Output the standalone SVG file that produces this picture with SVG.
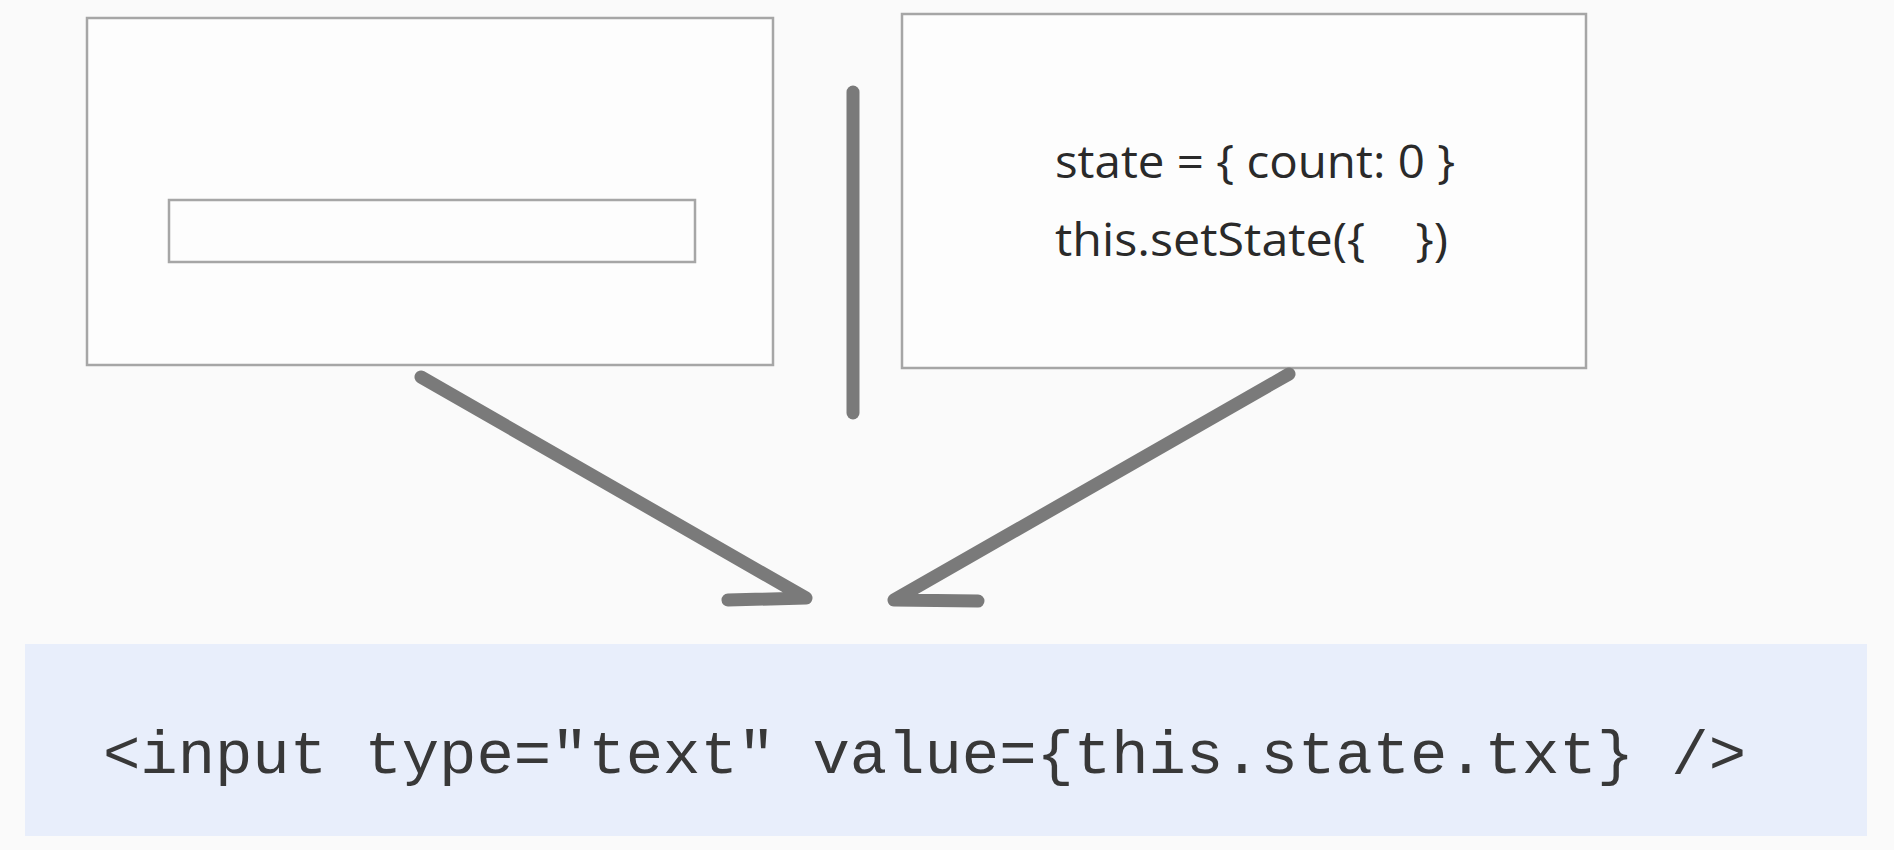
<svg xmlns="http://www.w3.org/2000/svg" width="1894" height="850" viewBox="0 0 1894 850">
  <style>
    .box { fill: #fdfdfd; stroke: #a6a6a6; stroke-width: 2.5; }
    .conn { fill: none; stroke: #7a7a7a; stroke-width: 13; stroke-linecap: round; stroke-linejoin: round; }
    .label { font-family: "Open Sans", "Noto Sans", sans-serif; font-size: 46px; fill: #2a2a2a; }
    .code { font-family: "Liberation Mono", "Courier New", monospace; font-size: 62px; fill: #383838; }
  </style>
  <rect x="0" y="0" width="1894" height="850" fill="#fafafa"/>
  <g id="view">
    <rect class="box" x="87" y="18" width="686" height="347"/>
    <rect class="box" x="169" y="200" width="526" height="62"/>
  </g>
  <g id="state">
    <rect class="box" x="902" y="14" width="684" height="354"/>
    <text class="label" x="1055" y="178" textLength="400" lengthAdjust="spacingAndGlyphs">state = { count: 0 }</text>
    <text class="label" x="1055" y="256" xml:space="preserve" textLength="393" lengthAdjust="spacingAndGlyphs">this.setState({    })</text>
  </g>
  <g id="code">
    <rect x="25" y="644" width="1842" height="192" fill="#e8eefb"/>
    <text class="code" x="103" y="773" textLength="1643" lengthAdjust="spacingAndGlyphs">&lt;input type="text" value={this.state.txt} /&gt;</text>
  </g>
  <g id="connectors">
    <line class="conn" x1="853" y1="92" x2="853" y2="413"/>
    <polyline class="conn" points="421,377 806,598 728,600"/>
    <polyline class="conn" points="1289,374 894,600 978,601"/>
  </g>
</svg>
